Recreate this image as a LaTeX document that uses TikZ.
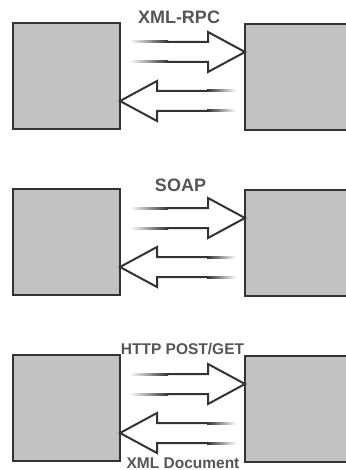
\documentclass[tikz,border=0pt]{standalone}
\usepackage{fontspec}
\setsansfont{Liberation Sans}
\usetikzlibrary{positioning}
\definecolor{boxgray}{HTML}{C2C2C2}
\definecolor{edgegray}{HTML}{333333}
\definecolor{textgray}{HTML}{555555}

\begin{document}
\begin{tikzpicture}[x=1pt, y=-1pt,
    box/.style={draw=edgegray, line width=2pt, fill=boxgray, anchor=north west,
                inner sep=0pt, outer sep=0pt, minimum height=106pt},
    lbl/.style={text=textgray, font=\sffamily\bfseries\fontsize{18}{21}\selectfont, anchor=base, inner sep=0pt},
    small/.style={lbl, font=\sffamily\bfseries\fontsize{15.5}{18}\selectfont},
    hollow/.style={draw=edgegray, line width=2pt, line join=miter}]
  \useasboundingbox (0,0) rectangle (345,470);

  % three pairs of boxes, one per protocol
  \foreach \dy/\row in {0/a, 166/b, 332/c} {
    \begin{scope}[yshift=-\dy pt]
      \node[box, minimum width=107pt] (client\row) at (13,23) {};
      \node[box, minimum width=110pt] (server\row) at (245,24) {};
      % request arrow
      \draw[hollow] (168,42) -- (208,42) -- (208,32) -- (server\row.west |- 0,52)
                    -- (208,72) -- (208,62) -- (168,62);
      \shade[left color=white, right color=edgegray] (130,41) rectangle (168,43);
      \shade[left color=white, right color=edgegray] (130,61) rectangle (168,63);
      % response arrow
      \draw[hollow] (207,91) -- (157,91) -- (157,81) -- (client\row.east |- 0,101)
                    -- (157,121) -- (157,111) -- (207,111);
      \shade[left color=edgegray, right color=white] (207,90) rectangle (236,92);
      \shade[left color=edgegray, right color=white] (207,110) rectangle (236,112);
    \end{scope}
  }

  \node[lbl] (xmlrpc) at (179,24) {XML-RPC};
  \node[lbl] (soap) at (180.5,191) {SOAP};
  \node[small] (httpget) at (182.5,354) {HTTP POST/GET};
  \node[small] (xmldoc) at (183,468) {XML Document};
\end{tikzpicture}
\end{document}
